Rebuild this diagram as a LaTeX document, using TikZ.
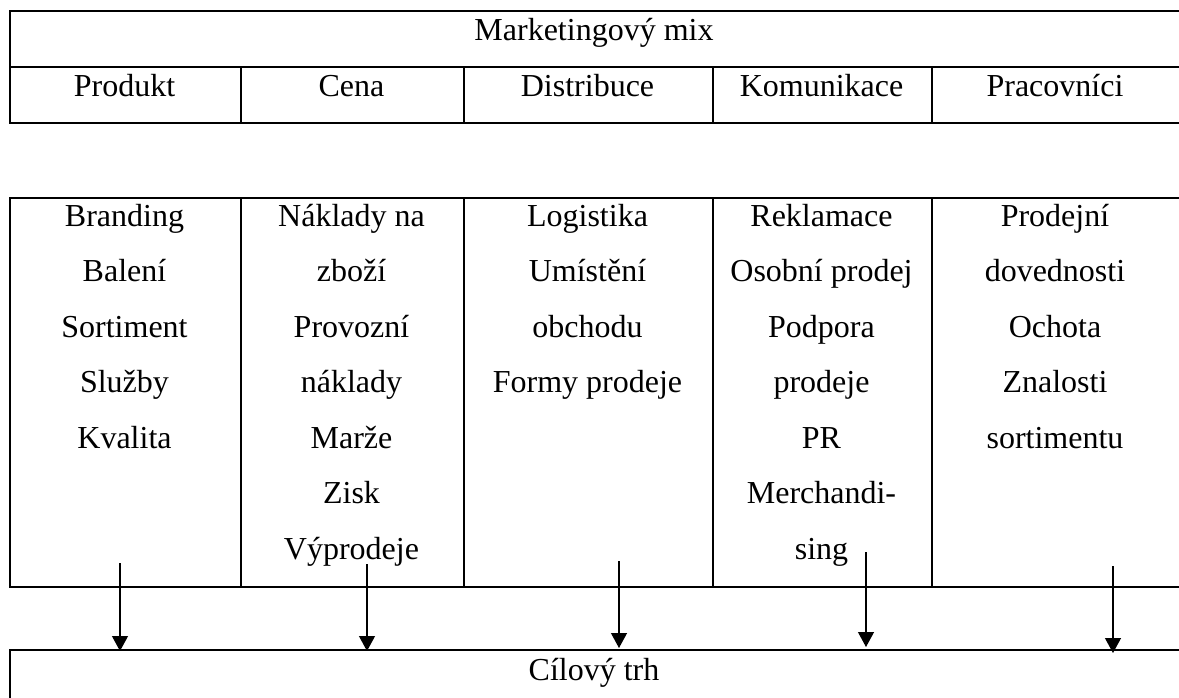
\documentclass[tikz,border=0pt]{standalone}
\usepackage{fontspec}
\setmainfont{Liberation Serif}
\usetikzlibrary{arrows.meta,calc}
\begin{document}
\begin{tikzpicture}[x=1pt,y=-1pt,
  cellbox/.style={draw, line width=2pt, rectangle, inner sep=0pt, anchor=north west},
  lbl/.style={anchor=base, inner sep=0pt, font=\fontsize{32}{38}\selectfont},
  arr/.style={line width=1.2pt, -{Triangle[width=16pt,length=15pt]}}]
\useasboundingbox (0,0) rectangle (1179,698);
\fill[white] (0,0) rectangle (1179,698);
% top table
\node[cellbox, minimum width=1172pt, minimum height=56pt] (mix) at (9,10) {};
\node[cellbox, minimum width=231pt, minimum height=56pt] (h1) at (9,66) {};
\node[cellbox, minimum width=223pt, minimum height=56pt] (h2) at (240,66) {};
\node[cellbox, minimum width=249pt, minimum height=56pt] (h3) at (463,66) {};
\node[cellbox, minimum width=219pt, minimum height=56pt] (h4) at (712,66) {};
\node[cellbox, minimum width=250pt, minimum height=56pt] (h5) at (931,66) {};
% body table
\node[cellbox, minimum width=231pt, minimum height=389pt] (c1) at (9,197) {};
\node[cellbox, minimum width=223pt, minimum height=389pt] (c2) at (240,197) {};
\node[cellbox, minimum width=249pt, minimum height=389pt] (c3) at (463,197) {};
\node[cellbox, minimum width=219pt, minimum height=389pt] (c4) at (712,197) {};
\node[cellbox, minimum width=250pt, minimum height=389pt] (c5) at (931,197) {};
% target
\node[cellbox, minimum width=1172pt, minimum height=90pt] (trh) at (9,649) {};
% labels
\node[lbl] (tmix) at (594,41) {Marketingový mix};
\node[lbl] (t1) at (124.5,97) {Produkt};
\node[lbl] (t2) at (351.5,97) {Cena};
\node[lbl] (t3) at (587.5,97) {Distribuce};
\node[lbl] (t4) at (821.5,97) {Komunikace};
\node[lbl] (t5) at (1055,97) {Pracovníci};
\node[lbl] (ttrh) at (594,680) {Cílový trh};
\foreach \t [count=\i] in {Branding,Balení,Sortiment,Služby,Kvalita}
  \node[lbl] (a\i) at (124.5,{226+55.5*(\i-1)}) {\t};
\foreach \t [count=\i] in {Náklady na,zboží,Provozní,náklady,Marže,Zisk,Výprodeje}
  \node[lbl] (b\i) at (351.5,{226+55.5*(\i-1)}) {\t};
\foreach \t [count=\i] in {Logistika,Umístění,obchodu,Formy prodeje}
  \node[lbl] (d\i) at (587.5,{226+55.5*(\i-1)}) {\t};
\foreach \t [count=\i] in {Reklamace,Osobní prodej,Podpora,prodeje,PR,Merchandi-,sing}
  \node[lbl] (k\i) at (821.5,{226+55.5*(\i-1)}) {\t};
\foreach \t [count=\i] in {Prodejní,dovednosti,Ochota,Znalosti,sortimentu}
  \node[lbl] (p\i) at (1055,{226+55.5*(\i-1)}) {\t};
% arrows
\coordinate (s1) at (120,563);
\coordinate (s2) at (367,564);
\coordinate (s3) at (619,561);
\coordinate (s4) at (866,552);
\coordinate (s5) at (1113,566);
\draw[arr] (s1) -- ($(s1 |- trh.north)+(0,2)$);
\draw[arr] (s2) -- ($(s2 |- trh.north)+(0,2)$);
\draw[arr] (s3) -- ($(s3 |- trh.north)+(0,-1)$);
\draw[arr] (s4) -- ($(s4 |- trh.north)+(0,-2)$);
\draw[arr] (s5) -- ($(s5 |- trh.north)+(0,4)$);
\end{tikzpicture}
\end{document}
